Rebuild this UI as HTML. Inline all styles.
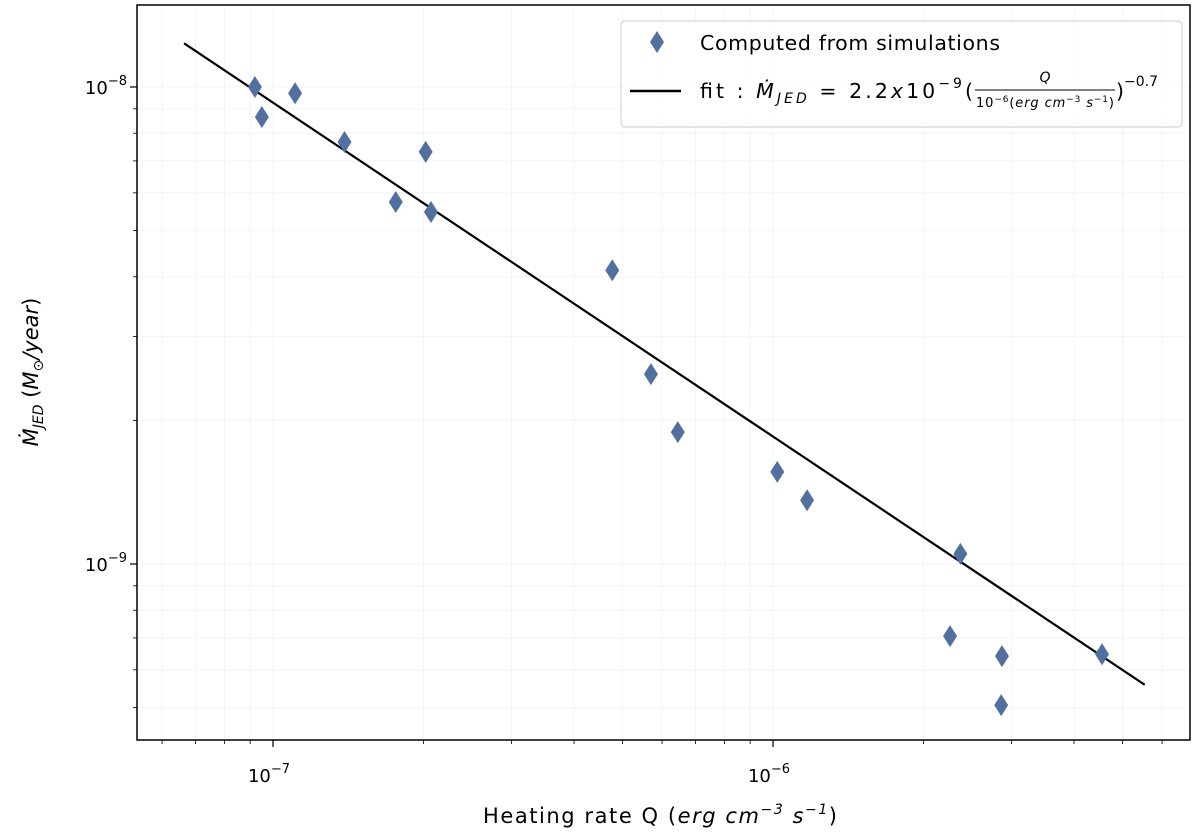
<!DOCTYPE html>
<html><head><meta charset="utf-8"><style>
body{margin:0;background:#fff;}
svg{display:block;font-family:"DejaVu Sans","Liberation Sans",sans-serif;}
</style></head><body>
<svg id="chart" width="1200" height="839" viewBox="0 0 1200 839" xmlns="http://www.w3.org/2000/svg">
<rect width="1200" height="839" fill="#fff"/>
<g id="grid"></g>
<g id="fit"></g>
<g id="points"></g>
<rect x="137" y="5" width="1053" height="735" fill="none" stroke="#000" stroke-width="1.5"/>
<g id="ticks"></g>
<text x="660" y="823" font-size="21" text-anchor="middle" textLength="354">Heating rate Q (<tspan font-style="italic">erg cm</tspan><tspan font-size="14" dy="-9" font-style="italic">−3</tspan><tspan dy="9" font-style="italic"> s</tspan><tspan font-size="14" dy="-9" font-style="italic">−1</tspan><tspan dy="9">)</tspan></text>
<text transform="translate(38,372) rotate(-90)" font-size="21" text-anchor="middle"><tspan font-style="italic">Ṁ</tspan><tspan font-size="14" dy="5" font-style="italic">JED</tspan><tspan dy="-5"> (</tspan><tspan font-style="italic">M</tspan><tspan font-size="14" dy="5">⊙</tspan><tspan dy="-5" font-style="italic">/year</tspan>)</text>
<g>
<rect x="621" y="21" width="561" height="106" rx="4" fill="#fff" fill-opacity="0.9" stroke="#ccc"/>
<path d="M657,31 L664,42 L657,53 L650,42 Z" fill="#52709f"/>
<text x="700" y="50" font-size="20.5" textLength="300">Computed from simulations</text>
<line x1="630" y1="91" x2="681" y2="91" stroke="#000" stroke-width="2.5"/>
<text x="700" y="98" font-size="20.5" textLength="273">fit : <tspan font-style="italic">Ṁ</tspan><tspan font-size="14" dy="5" font-style="italic">JED</tspan><tspan dy="-5"> = 2.2</tspan><tspan font-style="italic">x</tspan>10<tspan font-size="14" dy="-10">−9</tspan><tspan dy="10">(</tspan></text>
<text x="1045" y="82" font-size="14" font-style="italic" text-anchor="middle">Q</text>
<line x1="975" y1="90" x2="1115" y2="90" stroke="#000" stroke-width="1"/>
<text x="1045" y="107" font-size="13" text-anchor="middle" textLength="138">10<tspan font-size="9" dy="-5">−6</tspan><tspan dy="5">(</tspan><tspan font-style="italic">erg cm</tspan><tspan font-size="9" dy="-5">−3</tspan><tspan dy="5" font-style="italic"> s</tspan><tspan font-size="9" dy="-5">−1</tspan><tspan dy="5">)</tspan></text>
<text x="1116" y="98" font-size="20.5">)<tspan font-size="14" dy="-12">−0.7</tspan></text>
</g>
</svg>
<script>
const qValues=[9.2e-8,9.5e-8,1.107e-7,1.39e-7,1.76e-7,2.02e-7,2.07e-7,4.77e-7,5.7e-7,6.45e-7,1.02e-6,1.17e-6,2.37e-6,2.26e-6,2.87e-6,2.86e-6,4.55e-6];
const mdotValues=[1.0e-8,8.65e-9,9.7e-9,7.67e-9,5.74e-9,7.31e-9,5.47e-9,4.13e-9,2.5e-9,1.89e-9,1.56e-9,1.36e-9,1.05e-9,7.06e-10,6.41e-10,5.06e-10,6.47e-10];
const fitAmplitude=[1.85e-9];
const fitExponent=[-0.7];
const fitRange=[6.64e-8,5.54e-6];
const xMajorTicks=[1e-7,1e-6];
const xTickLabels=["10","10"];
const xTickExps=["−7","−6"];
const yMajorTicks=[1e-9,1e-8];
const yTickExps=["−9","−8"];

const NS="http://www.w3.org/2000/svg";
const L=137,R=1190,T=5,B=740;
function xs(q){return 273+500*(Math.log10(q)+7);}
function ys(m){return 87-477*(Math.log10(m)+8);}
function mk(tag,attrs,parent){const e=document.createElementNS(NS,tag);for(const k in attrs)e.setAttribute(k,attrs[k]);parent.appendChild(e);return e;}

const ticks=document.getElementById('ticks');
for(let d=-8;d<=-5;d++){for(let k=1;k<10;k++){const q=k*Math.pow(10,d);const x=xs(q);if(x<L||x>R)continue;
 const major=k===1;
 const t=mk('line',{x1:x,x2:x,y1:B,y2:B+(major?7:4),stroke:'#000','stroke-width':major?1.2:0.8},ticks);
 
 
 mk('line',{x1:x,x2:x,y1:T,y2:B,stroke:'#f4f4f4','stroke-width':1},document.getElementById('grid'));
}}
xMajorTicks.forEach((q,i)=>{const tx=mk('text',{x:xs(q)-4,y:B+42,'font-size':18,'text-anchor':'middle'},ticks);
 
 
 tx.innerHTML=xTickLabels[i]+'<tspan font-size="13" dy="-9">'+xTickExps[i]+'</tspan>';});
for(let d=-10;d<=-8;d++){for(let k=1;k<10;k++){const m=k*Math.pow(10,d);const y=ys(m);if(y<T||y>B)continue;
 const major=k===1;
 const t=mk('line',{x1:L-(major?7:4),x2:L,y1:y,y2:y,stroke:'#000','stroke-width':major?1.2:0.8},ticks);
 
 
 mk('line',{x1:L,x2:R,y1:y,y2:y,stroke:'#f4f4f4','stroke-width':1},document.getElementById('grid'));
}}
yMajorTicks.forEach((m,i)=>{const tx=mk('text',{x:L-10,y:ys(m)+7,'font-size':18,'text-anchor':'end'},ticks);
 
 
 tx.innerHTML='10<tspan font-size="13" dy="-9">'+yTickExps[i]+'</tspan>';});

const fitF=q=>fitAmplitude[0]*Math.pow(q/1e-6,fitExponent[0]);
const fl=mk('line',{x1:xs(fitRange[0]),y1:ys(fitF(fitRange[0])),x2:xs(fitRange[1]),y2:ys(fitF(fitRange[1])),stroke:'#000','stroke-width':2.2},document.getElementById('fit'));



const pts=document.getElementById('points');
qValues.forEach((q,i)=>{const x=xs(q),y=ys(mdotValues[i]);
 const p=mk('path',{d:`M${x},${y-11} L${x+7},${y} L${x},${y+11} L${x-7},${y} Z`,fill:'#52709f'},pts);
 
 
});
</script>
</body></html>
